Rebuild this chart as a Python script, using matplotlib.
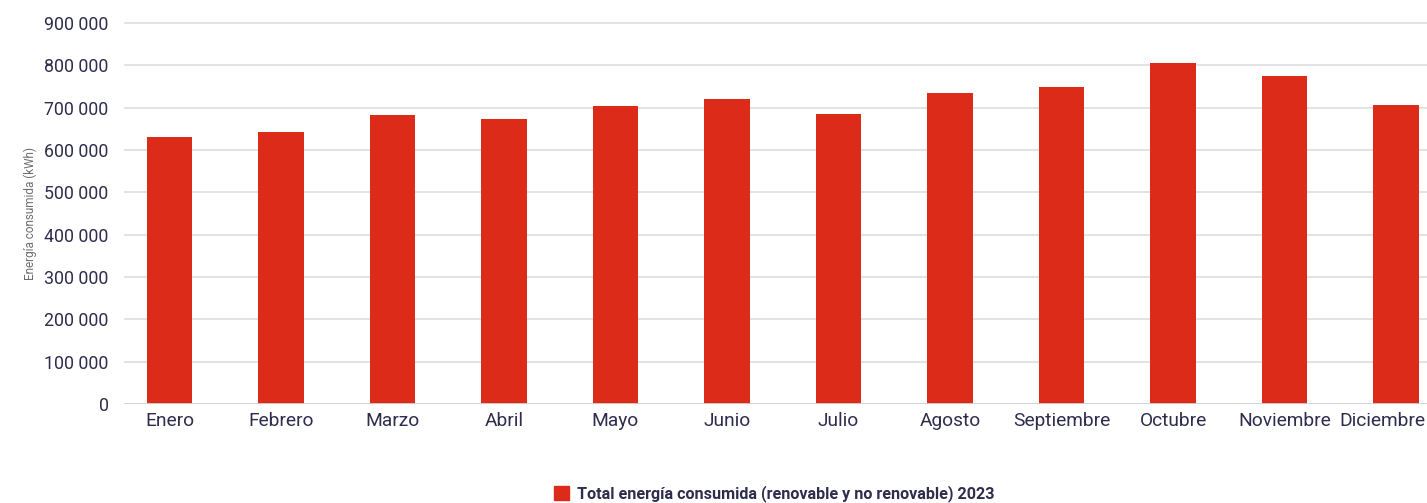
import matplotlib.pyplot as plt
from matplotlib.patches import Patch
from matplotlib.ticker import FuncFormatter
from matplotlib.transforms import ScaledTranslation

months = ["Enero", "Febrero", "Marzo", "Abril", "Mayo", "Junio", "Julio",
          "Agosto", "Septiembre", "Octubre", "Noviembre", "Diciembre"]
energy_kwh = [631000, 643000, 683000, 673000, 704000, 721000, 685000,
              735000, 749000, 806000, 775000, 706000]
y_ticks = [0, 100000, 200000, 300000, 400000, 500000, 600000, 700000, 800000, 900000]

BAR_COLOR = "#DC2C19"
TEXT_COLOR = "#2E2D4D"
GRID_COLOR = "#E3E3E3"

plt.rcParams["font.family"] = ["Roboto", "DejaVu Sans"]

fig = plt.figure(figsize=(14.27, 5.03), dpi=100)
W, H = 1427, 503
# axes run off the right edge, so the last bar is cut at the border
ax = fig.add_axes([124 / W, (H - 404) / H, (1427 - 124) / W, (404 - 14.5) / H])

x = range(len(months))
ax.bar(x, energy_kwh, width=0.404, color=BAR_COLOR, zorder=3)

ax.set_xlim(-0.408, 11.278)
ax.set_ylim(0, 920000)
ax.set_yticks(y_ticks)
ax.yaxis.set_major_formatter(FuncFormatter(lambda v, _: f"{int(v):,}".replace(",", " ")))
ax.set_xticks(list(x))
ax.set_xticklabels(months)

ax.grid(axis="y", color=GRID_COLOR, linewidth=1.4, zorder=0)
ax.axhline(0, color="#D3D3D3", linewidth=2, zorder=4)
for s in ax.spines.values():
    s.set_visible(False)

ax.tick_params(axis="y", length=0, pad=11, labelsize=12.8, labelcolor=TEXT_COLOR)
ax.tick_params(axis="x", length=0, pad=6, labelsize=13.8, labelcolor=TEXT_COLOR)

# nudge the last month label left so it stays inside the figure
last = ax.get_xticklabels()[-1]
last.set_transform(last.get_transform() + ScaledTranslation(-0.14, 0, fig.dpi_scale_trans))

fig.text(30 / W, 1 - 213 / H, "Energía consumida (kWh)", rotation=90,
         ha="center", va="center", fontsize=8.5, color="#6E6E6E")

fig.legend(handles=[Patch(color=BAR_COLOR, label="Total energía consumida (renovable y no renovable) 2023")],
           loc="center", bbox_to_anchor=(774 / W, 1 - 494 / H), frameon=False,
           handlelength=0.95, handleheight=0.95, handletextpad=0.5,
           prop={"weight": "bold", "size": 11.6}, labelcolor=TEXT_COLOR)

fig.savefig("out.png", dpi=100)
